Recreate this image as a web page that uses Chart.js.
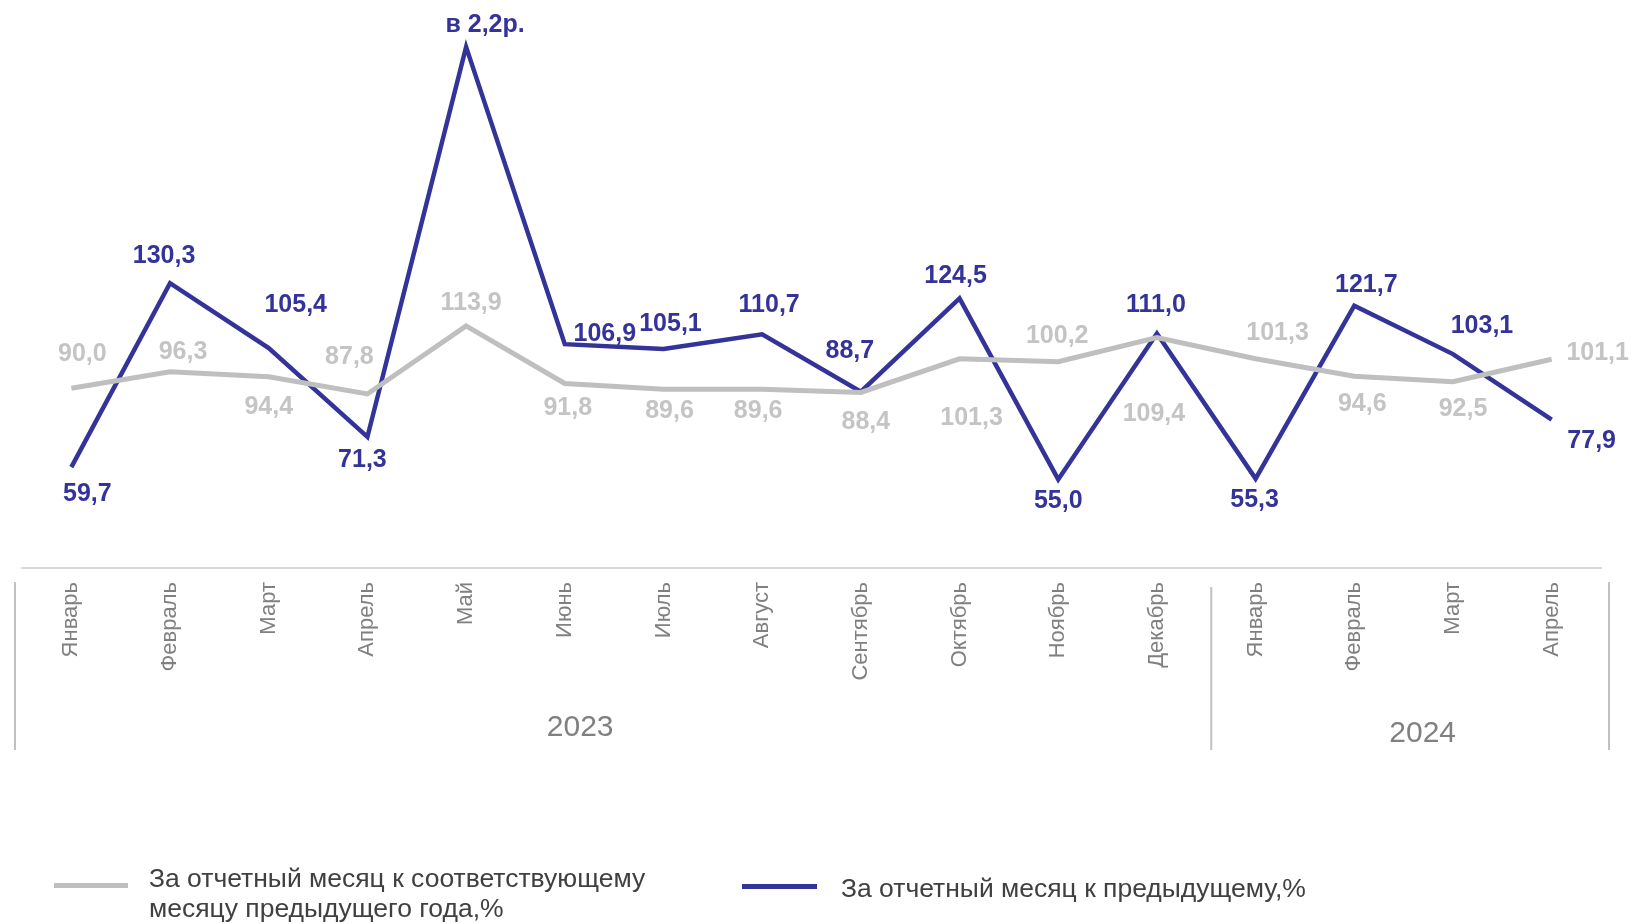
<!DOCTYPE html>
<html>
<head>
<meta charset="utf-8">
<script src="https://cdn.jsdelivr.net/npm/chart.js@4.4.1/dist/chart.umd.min.js"></script>
<style>
  html, body { margin: 0; padding: 0; background: #fff; }
  #wrap { position: relative; width: 1632px; height: 923px; font-family: "Liberation Sans", Arial, sans-serif; }
  #chart { position: absolute; left: 0; top: 0; }
  .leg-line { position: absolute; height: 5px; }
  .leg-text { position: absolute; font-size: 26.5px; color: #404040; line-height: 30px; white-space: nowrap; }
</style>
</head>
<body>
<div id="wrap">
  <canvas id="chart" width="1632" height="923"></canvas>
  <div class="leg-line" style="left:54px; top:883px; width:74px; background:#bfbfbf;"></div>
  <div class="leg-text" style="left:149px; top:863px;">За отчетный месяц к соответствующему<br>месяцу предыдущего года,%</div>
  <div class="leg-line" style="left:742px; top:884px; width:75px; background:#333399;"></div>
  <div class="leg-text" style="left:841px; top:873px;">За отчетный месяц к предыдущему,%</div>
</div>
<script>
const months = ['Январь', 'Февраль', 'Март', 'Апрель', 'Май', 'Июнь', 'Июль', 'Август',
    'Сентябрь', 'Октябрь', 'Ноябрь', 'Декабрь', 'Январь', 'Февраль', 'Март', 'Апрель'];
const years = ['2023', '2024'];
const yearStart = [0, 12];

// к соответствующему месяцу предыдущего года, %
const yoy = [90.0, 96.3, 94.4, 87.8, 113.9, 91.8, 89.6, 89.6, 88.4, 101.3, 100.2, 109.4, 101.3, 94.6, 92.5, 101.1];
// к предыдущему месяцу, % (май - в 2,2 раза)
const mom = [59.7, 130.3, 105.4, 71.3, 221, 106.9, 105.1, 110.7, 88.7, 124.5, 55.0, 111.0, 55.3, 121.7, 103.1, 77.9];
const momText = ['59,7', '130,3', '105,4', '71,3', 'в 2,2р.', '106,9', '105,1', '110,7', '88,7', '124,5', '55,0', '111,0', '55,3', '121,7', '103,1', '77,9'];

const GRAY = '#bfbfbf';
const BLUE = '#333399';

// label offsets from the point (style only)
const yoyOff = [[11, -34], [13, -20], [0, 30], [-18, -37], [5, -23], [3, 25], [6, 22], [-4, 22],
    [5, 30], [12, 59], [-1, -26], [-3, 76], [22, -26], [8, 28], [10, 27], [46, -6]];
const momOff = [[16, 27], [-6, -27], [27, -43], [-5, 23], [19, -22], [40, -10], [7, -25], [7, -29],
    [-11, -40], [-4, -22], [0, 22], [-1, -28], [-1, 21], [12, -21], [29, -28], [40, 21]];

const fmt = v => v.toFixed(1).replace('.', ',');

const labelPlugin = {
    id: 'pointLabels',
    afterDatasetsDraw(chart) {
        const ctx = chart.ctx;
        ctx.save();
        ctx.font = 'bold 25px "Liberation Sans", Arial, sans-serif';
        ctx.textAlign = 'center';
        ctx.textBaseline = 'middle';
        chart.getDatasetMeta(0).data.forEach((pt, i) => {
            ctx.fillStyle = '#c4c4c4';
            ctx.fillText(fmt(yoy[i]), pt.x + yoyOff[i][0], pt.y + yoyOff[i][1]);
        });
        chart.getDatasetMeta(1).data.forEach((pt, i) => {
            ctx.fillStyle = BLUE;
            ctx.fillText(momText[i], pt.x + momOff[i][0], pt.y + momOff[i][1]);
        });
        ctx.restore();
    }
};

const yearPlugin = {
    id: 'yearGroups',
    afterDraw(chart) {
        const ctx = chart.ctx;
        const x = chart.scales.x;
        const area = chart.chartArea;
        const step = x.getPixelForValue(1) - x.getPixelForValue(0);
        const seps = [area.left - 7];
        yearStart.slice(1).forEach(s => seps.push(x.getPixelForValue(s) - step / 2 + 5));
        seps.push(area.right + 8);
        ctx.save();
        ctx.strokeStyle = '#c0c0c0';
        ctx.lineWidth = 2;
        seps.forEach((sx, i) => {
            const top = i === 1 ? area.bottom + 19 : area.bottom + 14;
            ctx.beginPath();
            ctx.moveTo(sx, top);
            ctx.lineTo(sx, area.bottom + 182);
            ctx.stroke();
        });
        ctx.fillStyle = '#808080';
        ctx.font = '30px "Liberation Sans", Arial, sans-serif';
        ctx.textAlign = 'center';
        ctx.textBaseline = 'middle';
        const yearDx = [-34, 19];
        const yearDy = [160, 166];
        years.forEach((yr, i) => {
            const from = yearStart[i];
            const to = i + 1 < yearStart.length ? yearStart[i + 1] - 1 : months.length - 1;
            const cx = (x.getPixelForValue(from) + x.getPixelForValue(to)) / 2;
            ctx.fillText(yr, cx + yearDx[i], area.bottom + yearDy[i]);
        });
        ctx.restore();
    }
};

new Chart(document.getElementById('chart'), {
    type: 'line',
    data: {
        labels: months,
        datasets: [{
            label: 'За отчетный месяц к соответствующему месяцу предыдущего года,%',
            data: yoy,
            borderColor: GRAY,
            borderWidth: 5,
            pointRadius: 0,
            tension: 0,
            clip: false
        }, {
            label: 'За отчетный месяц к предыдущему,%',
            data: mom,
            borderColor: BLUE,
            borderWidth: 4.5,
            pointRadius: 0,
            tension: 0,
            clip: false
        }]
    },
    options: {
        responsive: false,
        animation: false,
        layout: { padding: { left: 22, right: 31, top: 0, bottom: 0 } },
        plugins: {
            legend: { display: false },
            tooltip: { enabled: false }
        },
        scales: {
            x: {
                offset: true,
                grid: { display: false, drawTicks: false },
                border: { display: true, color: '#d9d9d9', width: 2 },
                ticks: {
                    autoSkip: false,
                    maxRotation: 90,
                    minRotation: 90,
                    padding: 14,
                    color: '#808080',
                    font: { family: '"Liberation Sans", Arial, sans-serif', size: 22 }
                },
                afterFit: scale => { scale.height = 355; }
            },
            y: {
                display: false,
                min: 21,
                max: 239
            }
        }
    },
    plugins: [labelPlugin, yearPlugin]
});
</script>
</body>
</html>
